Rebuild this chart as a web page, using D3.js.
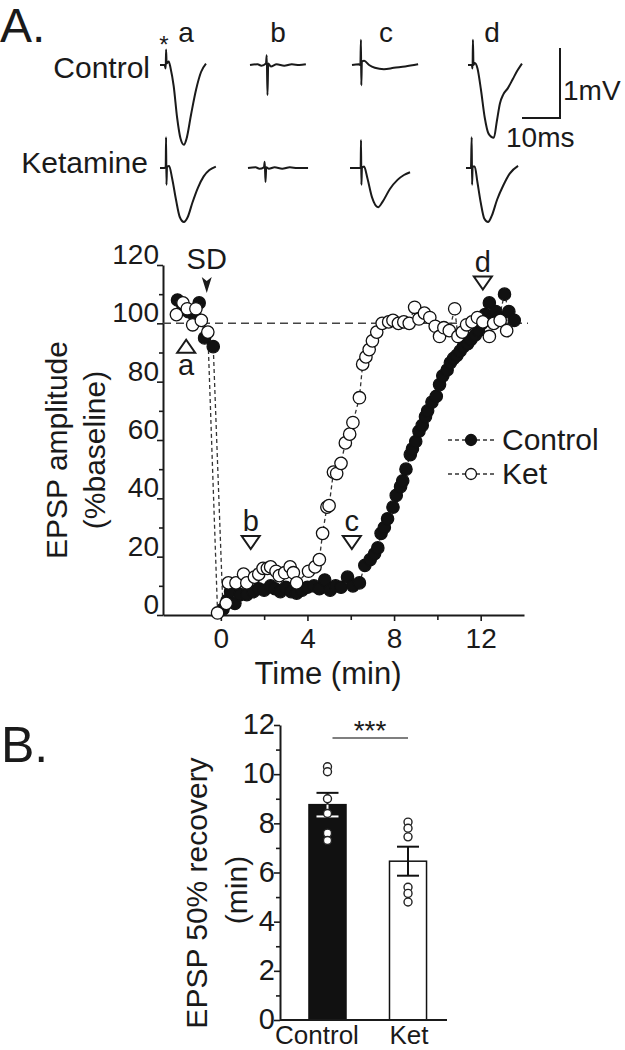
<!DOCTYPE html>
<html><head><meta charset="utf-8">
<script src="https://cdn.jsdelivr.net/npm/d3@7"></script>
<style>
html,body{margin:0;padding:0;background:#fff;}
svg text{font-family:"Liberation Sans",Arial,Helvetica,sans-serif;fill:#1a1a1a;}
</style></head>
<body><svg id="c" width="625" height="1050"></svg>
<script>
// ---------- DATA ----------
// Panel A time course: time (min) and EPSP amplitude (% baseline)
const ctrlTime = [-2.0,-1.75,-1.5,-1.25,-1.0,-0.75,-0.35,
  0.1,0.3,0.45,0.65,0.9,1.2,1.5,1.75,2.0,2.3,2.5,2.75,3.0,3.25,3.5,3.75,4.0,4.3,4.55,4.8,5.05,5.3,5.55,5.85,6.1,6.4,
  6.65,6.9,7.1,7.25,7.4,7.55,7.7,7.95,8.1,8.3,8.4,8.55,8.75,8.85,9.0,9.15,9.3,9.45,9.55,9.75,9.95,10.1,10.25,10.45,
  10.6,10.75,10.9,11.05,11.2,11.4,11.55,11.75,11.9,12.05,12.2,12.4,12.55,12.7,12.85,13.1,13.3,13.55];
const ctrlAmp = [108,106,104,103,107,95,92,
  2,5,8,4,7,7,8,9,8.5,10,9,8,9.5,8,7.5,8.5,9.5,10,9,12,8.5,10,9.5,13,10,11,
  17,19,21,23,28,30,33,37,41,44,46,50,55,57,59.5,63,65,68,70,73,75,79,82,84,
  86.5,88,89,90.5,92,93,94.5,96,97.5,100,103,107,102,104,102,110,104,101];
const ketTime = [-2.05,-1.75,-1.55,-1.3,-1.15,-0.9,-0.6,
  -0.15,0.25,0.35,0.7,1.05,1.2,1.55,1.75,1.95,2.15,2.3,2.55,2.7,2.95,3.2,3.35,3.5,4.05,4.35,4.55,4.7,4.9,5.0,5.2,5.35,
  5.55,5.75,5.95,6.1,6.4,6.55,6.7,6.85,7.0,7.2,7.45,7.75,7.95,8.2,8.45,8.7,8.95,9.15,9.4,9.65,9.9,10.1,10.3,10.55,
  10.8,10.95,11.15,11.35,11.6,11.85,12.1,12.4,12.6,12.9,13.2];
const ketAmp = [103,107,105,99.5,105,101,97,
  0.7,4,11,11,14,11,13,14,16,16,16.5,15,13.5,14.5,16.5,14.5,11,15,16.5,19,28,37,37.5,49,48.5,
  52,59,62,66,74.5,86,88.5,91,94,97,100,100.5,101,100,100.5,100,105.5,101.5,103.5,102,99,95.5,98.5,97.5,
  105,95.5,97,99.5,100.5,102,100.5,95.5,100,101,97.5];
const xTickLabels = [0,4,8,12];
const yTickLabels = [0,20,40,60,80,100,120];
const seriesNames = ["Control","Ket"];
// sample markers (label, time, level)
const markLabels = ["a","b","c","d"];
const markTimes = [-1.6,1.38,6.05,12.1];
const markLevels = [92,25,25,114];
const sdTime = -0.65;

// Example traces: time (ms) / voltage (mV) pairs, rows Control & Ketamine, columns a-d
const traceRows = ["Control","Ketamine"];
const traceCtrlA = [[0,0],[1.2,0],[1.5,-0.05],[1.6,0.22],[1.75,0.02],[2.3,0.05],[2.8,-0.05],[3.6,-0.3],[4.5,-0.75],[5.4,-1.05],[6.3,-1.14],[7.0,-1.05],[8.2,-0.7],[9.5,-0.35],[10.8,-0.1],[12.1,0.02]];
const traceCtrlB = [[0,0],[2,0.01],[3,-0.01],[4.2,0.02],[4.4,0.14],[4.6,-0.43],[4.8,0.02],[5.5,-0.02],[7,0.01],[9,-0.01],[11,0.01],[13,0],[14.7,0.01]];
const traceCtrlC = [[0,0],[1.8,0.01],[2.2,0.0],[2.35,0.36],[2.45,-0.29],[2.6,0.05],[3.2,0.06],[4.5,0.0],[6,-0.04],[8.4,-0.06],[11,-0.04],[14,-0.02],[17.4,0.01]];
const traceCtrlD = [[0,0],[1.0,0],[1.2,-0.05],[1.3,0.36],[1.45,0.0],[1.8,0.03],[2.5,-0.05],[3.4,-0.35],[4.4,-0.75],[5.4,-0.98],[6.8,-1.04],[7.6,-0.8],[8.4,-0.55],[9.3,-0.42],[10.5,-0.33],[11.8,-0.2],[13,-0.08],[14.2,0.02]];
const traceKetA = [[0,0],[1.2,0],[1.5,0.02],[1.6,0.44],[1.7,-0.24],[1.85,0.02],[2.4,0.03],[3.2,-0.15],[4.2,-0.45],[5.2,-0.7],[6.3,-0.77],[7.3,-0.7],[8.5,-0.5],[10,-0.28],[11.5,-0.12],[13,-0.03],[14.7,0.02]];
const traceKetB = [[0,0],[2,0.01],[3,-0.01],[4.2,0.01],[4.4,0.09],[4.6,-0.2],[4.8,0.01],[5.5,-0.01],[7,0.01],[9,-0.01],[11,0.01],[13,0],[15.8,0.0]];
const traceKetC = [[0,0],[2.4,0.0],[2.8,0.0],[2.9,0.4],[3.0,-0.24],[3.15,0.0],[3.7,0.02],[4.6,-0.15],[5.8,-0.42],[7.4,-0.56],[8.6,-0.48],[10.5,-0.3],[12.5,-0.17],[14.2,-0.1],[15.8,-0.06]];
const traceKetD = [[0,0],[1.3,0],[1.5,0.44],[1.6,-0.24],[1.75,0.02],[2.3,0.02],[3.0,-0.2],[3.9,-0.5],[4.8,-0.72],[5.8,-0.77],[6.8,-0.68],[8.2,-0.45],[9.8,-0.25],[11.5,-0.08],[13.7,0.03]];
const scaleBarMs = 10, scaleBarMv = 1;

// Panel B: 50% recovery time (min)
const barCats = ["Control","Ket"];
const barMeans = [8.76,6.46];
const barSem = [0.48,0.59];
const ctrlRecov = [10.3,10.1,9.0,8.4,7.6,7.3];
const ketRecov = [8.05,7.8,7.45,5.4,5.15,4.8];
const barTickLabels = [0,2,4,6,8,10,12];

// ---------- DRAW ----------
const svg = d3.select("#c");
const ink = "#1a1a1a";
const FONT = "'Liberation Sans',Arial,Helvetica,sans-serif";

// Panel labels
svg.append("text").attr("x",0).attr("y",42).attr("font-size",48).text("A.");
svg.append("text").attr("x",1).attr("y",762).attr("font-size",50).text("B.");

// ---- traces ----
const xs = d3.scaleLinear().domain([0,10]).range([0,38]);
const ys = d3.scaleLinear().domain([0,1]).range([0,-70]);
const line = d3.line().x(d=>xs(d[0])).y(d=>ys(d[1])).curve(d3.curveMonotoneX);
const traceStartX = [[160,250,352,468],[160,248,350,466]];
const rowBase = [65,168];
const traces = [[traceCtrlA,traceCtrlB,traceCtrlC,traceCtrlD],[traceKetA,traceKetB,traceKetC,traceKetD]];
traces.forEach((row,ri)=>row.forEach((tr,ci)=>{
  svg.append("path").attr("transform",`translate(${traceStartX[ri][ci]},${rowBase[ri]})`)
    .attr("d",line(tr)).attr("fill","none").attr("stroke",ink).attr("stroke-width",2).attr("stroke-linejoin","round");
}));
svg.append("text").attr("x",150).attr("y",78).attr("text-anchor","end").attr("font-size",30).text(traceRows[0]);
svg.append("text").attr("x",148).attr("y",173).attr("text-anchor","end").attr("font-size",30).text(traceRows[1]);
const colLabelX = [186,278,386,492];
markLabels.forEach((l,i)=>svg.append("text").attr("x",colLabelX[i]).attr("y",42).attr("text-anchor","middle").attr("font-size",28).text(l));
svg.append("text").attr("x",164).attr("y",53).attr("text-anchor","middle").attr("font-size",24).text("*");
// scale bar
const sbX = 560, sbY = 118;
svg.append("path").attr("d",`M${sbX},${sbY+ys(scaleBarMv)}V${sbY}H${sbX-xs(scaleBarMs)}`)
  .attr("fill","none").attr("stroke",ink).attr("stroke-width",2);
svg.append("text").attr("x",563).attr("y",100).attr("font-size",28).text("1mV");
svg.append("text").attr("x",506).attr("y",147).attr("font-size",28).text("10ms");

// ---- Panel A time course ----
const x = d3.scaleLinear().domain([-2.67,14]).range([163,524]);
const y = d3.scaleLinear().domain([0,120]).range([615,265]);

const gA = svg.append("g");
const xAxis = d3.axisBottom(x).tickValues([0,2,4,6,8,10,12]).tickSize(6).tickSizeOuter(0)
  .tickFormat(d=>xTickLabels.includes(d)?d:"");
const gx = gA.append("g").attr("transform",`translate(0,${y(0)})`).call(xAxis);
const yAxis = d3.axisLeft(y).tickValues(d3.range(0,121,10)).tickSize(6).tickSizeOuter(0)
  .tickFormat(d=>yTickLabels.includes(d)?d:"");
const gy = gA.append("g").attr("transform",`translate(${x(-2.67)},0)`).call(yAxis);
[gx,gy].forEach(g=>{
  g.select(".domain").attr("stroke",ink).attr("stroke-width",2);
  g.selectAll(".tick line").attr("stroke",ink).attr("stroke-width",1.6);
  g.selectAll(".tick text").attr("font-size",28).attr("fill",ink).style("font-family",FONT);
});
gx.selectAll(".tick line").filter(d=>!xTickLabels.includes(d)).attr("y2",5);
gy.selectAll(".tick line").filter(d=>!yTickLabels.includes(d)).attr("x2",-4);
gx.selectAll(".tick text").attr("dy","0.85em");
gy.selectAll(".tick text").attr("x",-4).attr("dy","-0.05em");

gA.append("text").attr("x",328).attr("y",684).attr("text-anchor","middle").attr("font-size",31).text("Time (min)");
gA.append("text").attr("transform","translate(67,450) rotate(-90)").attr("text-anchor","middle").attr("font-size",30).text("EPSP amplitude");
gA.append("text").attr("transform","translate(105,450) rotate(-90)").attr("text-anchor","middle").attr("font-size",30).text("(%baseline)");

// 100% reference line
gA.append("line").attr("x1",x(-2.67)).attr("x2",528).attr("y1",y(100)).attr("y2",y(100))
  .attr("stroke","#444").attr("stroke-width",1.5).attr("stroke-dasharray","8,5");

const ctrlData = ctrlTime.map((t,i)=>[t,ctrlAmp[i]]);
const ketData = ketTime.map((t,i)=>[t,ketAmp[i]]);
const sline = d3.line().x(d=>x(d[0])).y(d=>y(d[1]));
[ctrlData,ketData].forEach(dat=>{
  gA.append("path").attr("d",sline(dat)).attr("fill","none").attr("stroke","#333")
    .attr("stroke-width",1.3).attr("stroke-dasharray","4,3");
});
gA.append("g").selectAll("circle").data(ctrlData).join("circle")
  .attr("cx",d=>x(d[0])).attr("cy",d=>y(d[1])).attr("r",6.2)
  .attr("fill","#111").attr("stroke","#111").attr("stroke-width",1.2);
gA.append("g").selectAll("circle").data(ketData).join("circle")
  .attr("cx",d=>x(d[0])).attr("cy",d=>y(d[1])).attr("r",6.2)
  .attr("fill","#fff").attr("stroke","#111").attr("stroke-width",1.3);

// annotations
markLabels.forEach((l,i)=>{
  const cx = x(markTimes[i]), cy = y(markLevels[i]);
  if(l==="a"){
    gA.append("path").attr("d",`M${cx-9},${cy+6}L${cx+9},${cy+6}L${cx},${cy-7}Z`)
      .attr("fill","#fff").attr("stroke",ink).attr("stroke-width",2);
    gA.append("text").attr("x",cx).attr("y",cy+28).attr("text-anchor","middle").attr("font-size",29).text(l);
  } else {
    gA.append("path").attr("d",`M${cx-9},${cy-6}L${cx+9},${cy-6}L${cx},${cy+7}Z`)
      .attr("fill","#fff").attr("stroke",ink).attr("stroke-width",2);
    gA.append("text").attr("x",cx).attr("y",cy-11).attr("text-anchor","middle").attr("font-size",29).text(l);
  }
});
{
  const cx = x(sdTime);
  gA.append("text").attr("x",cx).attr("y",269).attr("text-anchor","middle").attr("font-size",29).text("SD");
  gA.append("path").attr("d",`M${cx-5},277L${cx},281L${cx+5},277L${cx},293Z`).attr("fill",ink);
}

// legend
const legY = [440,474];
seriesNames.forEach((n,i)=>{
  gA.append("line").attr("x1",448).attr("x2",495).attr("y1",legY[i]).attr("y2",legY[i])
    .attr("stroke","#333").attr("stroke-width",1.3).attr("stroke-dasharray","4,3");
  gA.append("circle").attr("cx",471).attr("cy",legY[i]).attr("r",5.5)
    .attr("fill",i===0?"#111":"#fff").attr("stroke","#111").attr("stroke-width",1.3);
  gA.append("text").attr("x",502).attr("y",legY[i]+10).attr("font-size",30).text(n);
});

// ---- Panel B ----
const xb = d3.scaleBand().domain(barCats).range([280,447]).paddingInner(0.54).paddingOuter(0.307).align(0.586);
const yb = d3.scaleLinear().domain([0,12]).range([1020,725]);
const gB = svg.append("g");
gB.selectAll("rect").data(barCats).join("rect")
  .attr("x",d=>xb(d)).attr("width",xb.bandwidth())
  .attr("y",(d,i)=>yb(barMeans[i])).attr("height",(d,i)=>yb(0)-yb(barMeans[i]))
  .attr("fill",(d,i)=>i===0?"#111":"#fff").attr("stroke","#111").attr("stroke-width",1.5);
barCats.forEach((c,i)=>{
  const cx = xb(c)+xb.bandwidth()/2;
  const top = yb(barMeans[i]+barSem[i]), bot = yb(barMeans[i]-barSem[i]), mid = yb(barMeans[i]);
  gB.append("line").attr("x1",cx).attr("x2",cx).attr("y1",top).attr("y2",mid).attr("stroke","#111").attr("stroke-width",2);
  gB.append("line").attr("x1",cx-11).attr("x2",cx+11).attr("y1",top).attr("y2",top).attr("stroke","#111").attr("stroke-width",2);
  const lc = i===0?"#fff":"#111";
  gB.append("line").attr("x1",cx).attr("x2",cx).attr("y1",mid).attr("y2",bot).attr("stroke",lc).attr("stroke-width",2);
  gB.append("line").attr("x1",cx-11).attr("x2",cx+11).attr("y1",bot).attr("y2",bot).attr("stroke",lc).attr("stroke-width",2);
  const pts = i===0?ctrlRecov:ketRecov;
  gB.append("g").selectAll("circle").data(pts).join("circle")
    .attr("cx",cx).attr("cy",d=>yb(d)).attr("r",4)
    .attr("fill","#fff").attr("stroke","#222").attr("stroke-width",1.4);
});
const yAxisB = d3.axisLeft(yb).tickValues(d3.range(0,13,1)).tickSize(6).tickSizeOuter(0)
  .tickFormat(d=>barTickLabels.includes(d)?d:"");
const gyb = gB.append("g").attr("transform","translate(280,0)").call(yAxisB);
gyb.select(".domain").attr("stroke",ink).attr("stroke-width",2);
gyb.selectAll(".tick line").attr("stroke",ink).attr("stroke-width",1.6);
gyb.selectAll(".tick line").filter(d=>!barTickLabels.includes(d)).attr("x2",-4);
gyb.selectAll(".tick text").attr("font-size",29).attr("fill",ink).attr("x",-5).attr("dy","0.3em")
  .style("font-family",FONT);
gB.append("line").attr("x1",280).attr("x2",447).attr("y1",yb(0)).attr("y2",yb(0)).attr("stroke",ink).attr("stroke-width",2);
const catLabelX = [317,409];
barCats.forEach((c,i)=>{
  gB.append("text").attr("x",catLabelX[i]).attr("y",1044).attr("text-anchor","middle").attr("font-size",26).text(c);
});
gB.append("line").attr("x1",xb("Control")+xb.bandwidth()/2+5).attr("x2",xb("Ket")+xb.bandwidth()/2)
  .attr("y1",738).attr("y2",738).attr("stroke","#555").attr("stroke-width",1.5);
gB.append("text").attr("x",370).attr("y",740).attr("text-anchor","middle").attr("font-size",28).text("***");
gB.append("text").attr("transform","translate(207,893) rotate(-90)").attr("text-anchor","middle").attr("font-size",30).text("EPSP 50% recovery");
gB.append("text").attr("transform","translate(247,890) rotate(-90)").attr("text-anchor","middle").attr("font-size",30).text("(min)");
</script></body></html>
